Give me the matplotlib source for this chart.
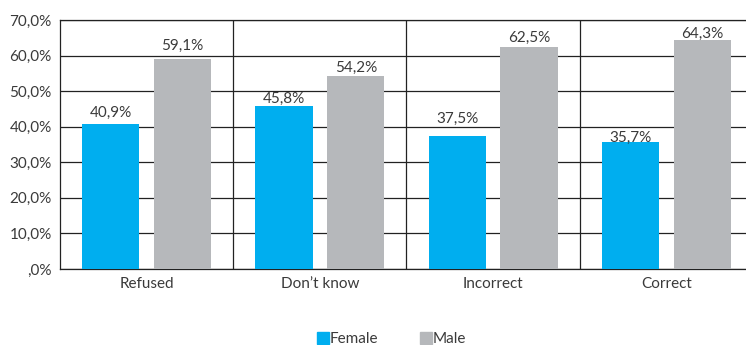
import matplotlib.pyplot as plt
import numpy as np
from matplotlib.lines import Line2D

categories = ['Refused', 'Don\u2019t know', 'Incorrect', 'Correct']
female = [40.9, 45.8, 37.5, 35.7]
male = [59.1, 54.2, 62.5, 64.3]

# gap between bar top and label, in pixels (as placed in the original)
female_gap = [7, 3, 13, 0]
male_gap = [9, 4, 5, 2]

blue = '#00aeef'
grey = '#b6b8bb'
txt = '#3a3a3a'
fs = 11

plt.rcParams['font.family'] = ['Lato', 'DejaVu Sans']

fig = plt.figure(figsize=(7.46, 3.45), dpi=100)
ax = fig.add_axes([60 / 746, 76 / 345, 693 / 746, 249 / 345])

x = np.arange(len(categories))
w = 0.33
off = 0.207
ax.bar(x - off, female, w, color=blue, zorder=3)
ax.bar(x + off, male, w, color=grey, zorder=3)


def pct(v):
    return f'{v:.1f}%'.replace('.', ',')


for xi, f, m, gf, gm in zip(x, female, male, female_gap, male_gap):
    ax.annotate(pct(f), (xi - off, f), xytext=(0, gf * 0.72), textcoords='offset points',
                ha='center', va='baseline', fontsize=fs, color=txt, zorder=4)
    ax.annotate(pct(m), (xi + off, m), xytext=(0, gm * 0.72), textcoords='offset points',
                ha='center', va='baseline', fontsize=fs, color=txt, zorder=4)

ax.set_xlim(-0.5, len(categories) - 0.5)
ax.set_ylim(0, 70)
yt = np.arange(0, 71, 10)
ax.set_yticks(yt)
ax.set_yticklabels([',0%'] + [pct(v) for v in yt[1:]], fontsize=fs, color=txt)
ax.set_xticks(x)
ax.set_xticklabels(categories, fontsize=fs, color=txt)
ax.tick_params(axis='both', length=0, pad=6)

ax.yaxis.grid(True, color='#222222', linewidth=0.9, zorder=0)
for b in x[:-1] + 0.5:
    ax.axvline(b, color='#222222', linewidth=0.9, zorder=1)
for s in ax.spines.values():
    s.set_color('#222222')
    s.set_linewidth(0.9)
ax.spines['right'].set_visible(False)

handles = [Line2D([], [], marker='s', linestyle='none', markersize=8, color=blue),
           Line2D([], [], marker='s', linestyle='none', markersize=8, color=grey)]
fig.legend(handles, ['Female', 'Male'], loc='center', bbox_to_anchor=(0.526, 0.016),
           ncol=2, frameon=False, fontsize=fs, handlelength=0.6, handletextpad=0.15,
           columnspacing=2.8, labelcolor=txt)

fig.savefig('out.png', dpi=100)
